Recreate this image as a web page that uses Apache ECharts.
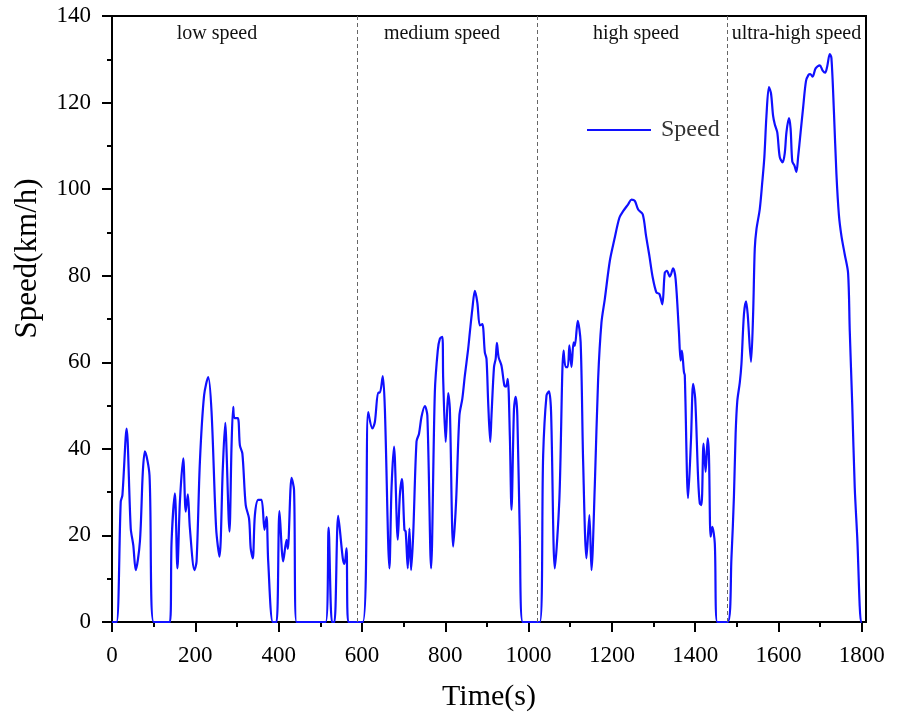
<!DOCTYPE html>
<html><head><meta charset="utf-8">
<script src="https://cdn.jsdelivr.net/npm/echarts@6/dist/echarts.min.js"></script>
<style>html,body{margin:0;padding:0;background:#fff}#c{width:900px;height:717px}</style>
</head><body><div id="c"></div>
<script>
// Time (s) and speed (km/h)
const time = [0,11,21,25,35,45,51,57,67,74,79,90,100,139,143,151,157,163,171,177,182,187,198,203,211,221,231,239,250,258,266,272,274,282,287,291,294,302,307,313,321,329,333,338,343,351,359,366,371,375,386,395,402,411,419,422,431,437,443,513,520,528,534,543,554,558,563,567,
602,615,625,631,639,643,650,655,666,671,677,686,691,696,702,705,710,714,718,723,731,737,743,751,757,766,775,782,787,793,795,801,807,811,819,826,834,841,847,855,859,865,871,877,883,889,895,899,903,908,911,917,921,924,928,935,942,946,950,955,959,965,969,973,979,986,
1027,1035,1043,1049,1054,1063,1074,1084,1089,1094,1098,1103,1108,1111,1118,1125,1131,1139,1146,1151,1159,1167,1175,1183,1195,1206,1218,1227,1239,1247,1255,1263,1274,1282,1290,1298,1307,1314,1321,1327,1332,1339,1347,1353,1361,1365,1368,1373,1375,1383,1390,1395,1400,1407,1411,1415,1420,1425,1430,1433,1437,1441,1447,1453,
1478,1487,1493,1497,1501,1507,1511,1517,1522,1526,1534,1539,1543,1547,1555,1561,1566,1571,1577,1582,1587,1591,1597,1603,1610,1615,1619,1625,1629,1633,1638,1643,1647,1653,1659,1666,1672,1676,1682,1689,1699,1706,1712,1717,1723,1727,1733,1739,1745,1751,1759,1767,1771,1777,1783,1789,1798,1800];
const speed = [0,0,27.8,29.3,44.7,21.6,17.8,12.0,18.6,34.7,39.4,33.9,0,0,18.6,29.7,12.4,27.8,37.8,25.5,29.5,21.6,12.0,14.0,37.0,52.3,56.6,48.5,21.6,15.1,35.5,46.0,42.4,20.9,40.8,49.7,47.1,47.1,40.8,38.9,27.0,23.9,17.0,14.7,24.7,28.2,28.2,21.3,24.3,14.0,0,0,25.6,14.0,19.0,16.9,33.3,30.5,0,0,21.8,0,0,24.5,14.7,13.4,17.0,0,
0,48.5,44.7,46.2,53.0,53.0,56.8,49.3,12.4,30.9,40.5,19.0,29.3,33.0,21.3,20.9,12.4,21.6,12.0,20.1,41.7,43.5,47.4,49.9,47.7,12.4,53.1,62.7,65.4,65.9,56.2,41.6,52.9,49.3,17.4,27.8,47.7,51.6,56.9,63.1,66.9,72.3,76.5,73.8,68.5,68.8,62.3,60.8,50.8,41.6,47.7,58.9,60.8,64.5,61.2,59.2,54.6,54.4,56.2,43.1,25.9,49.3,52.0,47.7,20.1,0,
0,38.5,52.3,53.3,48.5,12.4,28.6,62.7,58.9,58.9,63.9,58.9,64.6,63.8,69.6,64.6,37.0,14.7,24.7,12.0,31.6,56.2,69.2,74.6,83.4,88.4,93.4,94.9,96.5,97.6,97.3,95.3,94.2,89.2,84.6,79.6,76.1,75.8,73.4,80.7,81.1,79.8,81.7,79.2,66.9,60.4,62.7,57.7,57.0,28.6,42.4,55.0,51.6,33.2,27.4,27.0,41.2,34.7,42.4,38.5,19.7,22.0,18.2,0,
0,14.8,29.1,43.4,51.0,55.3,59.6,71.1,74.1,71.1,60.1,71.1,86.3,90.7,95.4,101.6,107.4,116.9,123.6,122.1,116.9,115.0,113.1,107.4,106.2,108.3,113.1,116.4,114.0,106.4,105.5,104.0,107.4,113.1,118.8,125.0,126.4,126.6,126.0,127.9,128.6,127.4,126.9,128.4,131.2,130.3,117.9,103.5,94.0,89.2,84.9,80.6,67.3,50.1,31.0,19.5,0,0];
const xTickValues = [0,200,400,600,800,1000,1200,1400,1600,1800];
const yTickValues = [0,20,40,60,80,100,120,140];
const phaseBounds = [589,1022,1477];
const phaseNames = ['low speed','medium speed','high speed','ultra-high speed'];
const seriesName = 'Speed';
const xTitle = 'Time(s)';
const yTitle = 'Speed(km/h)';

const FONT = '"Times New Roman","Liberation Serif",serif';
const chart = echarts.init(document.getElementById('c'), null, {renderer:'canvas'});
const pts = time.map((t,i)=>[t, speed[i]]);
const xMinor = xTickValues.slice(0,-1).map((v,i)=>(v+xTickValues[i+1])/2);
const plain = v => String(v);

const option = {
  animation:false,
  backgroundColor:'#fff',
  grid:{left:112,right:34,top:16,bottom:93,show:true,borderColor:'#000',borderWidth:2,backgroundColor:'transparent'},
  legend:{data:[{name:seriesName,icon:'rect'}],left:582,top:113,itemWidth:64,itemHeight:2,
    itemStyle:{color:'#1010ff'},
    textStyle:{fontFamily:FONT,fontSize:24,color:'#333',padding:[0,0,0,5]}},
  xAxis:[{
    type:'value',min:0,max:1810,position:'bottom',
    name:xTitle,nameLocation:'middle',nameGap:60,
    nameTextStyle:{fontFamily:FONT,fontSize:30,color:'#000'},
    axisLine:{show:true,onZero:false,lineStyle:{color:'#000',width:2}},
    axisTick:{show:true,inside:false,length:10,lineStyle:{color:'#000',width:2},customValues:xTickValues},
    axisLabel:{show:true,margin:22,fontFamily:FONT,fontSize:23,color:'#000',customValues:xTickValues,formatter:plain},
    splitLine:{show:false}
  },{
    type:'value',min:0,max:1810,position:'bottom',
    axisLine:{show:false},
    axisTick:{show:true,inside:false,length:5,lineStyle:{color:'#000',width:2},customValues:xMinor},
    axisLabel:{show:false},splitLine:{show:false}
  }],
  yAxis:{
    type:'value',min:0,max:140,interval:20,
    axisLine:{show:true,lineStyle:{color:'#000',width:2}},
    axisTick:{show:true,inside:false,length:10,lineStyle:{color:'#000',width:2}},
    minorTick:{show:true,splitNumber:2,length:5,lineStyle:{color:'#000',width:2}},
    axisLabel:{margin:21,fontFamily:FONT,fontSize:23,color:'#000',formatter:plain},
    splitLine:{show:false}
  },
  series:[{
    name:seriesName,type:'line',data:pts,symbol:'none',smooth:0.3,
    xAxisIndex:0,yAxisIndex:0,
    lineStyle:{color:'#1010ff',width:2.2},itemStyle:{color:'#1010ff'},
    markLine:{silent:true,symbol:['none','none'],label:{show:false},
      lineStyle:{color:'#666',type:[4,3],width:1},
      data:phaseBounds.map(v=>({xAxis:v}))}
  }]
};
chart.setOption(option);

// phase labels placed through the axes
const labelT = [252,792,1258,1643];
const labelV = 136;
const g = phaseNames.map((n,i)=>{
  const p = chart.convertToPixel({gridIndex:0},[labelT[i],labelV]);
  return {type:'text',x:p[0],y:p[1],style:{text:n,fontFamily:FONT,fontSize:20,fill:'#111',align:'center',verticalAlign:'middle'}};
});
// y axis title, centred on the value 84 of the axis like the reference
const yp = chart.convertToPixel({gridIndex:0},[0,84]);
g.push({type:'text',x:28,y:yp[1],rotation:Math.PI/2,
  style:{text:yTitle,fontFamily:FONT,fontSize:31,fill:'#000',align:'center',verticalAlign:'middle'}});
chart.setOption({graphic:g});
</script></body></html>
